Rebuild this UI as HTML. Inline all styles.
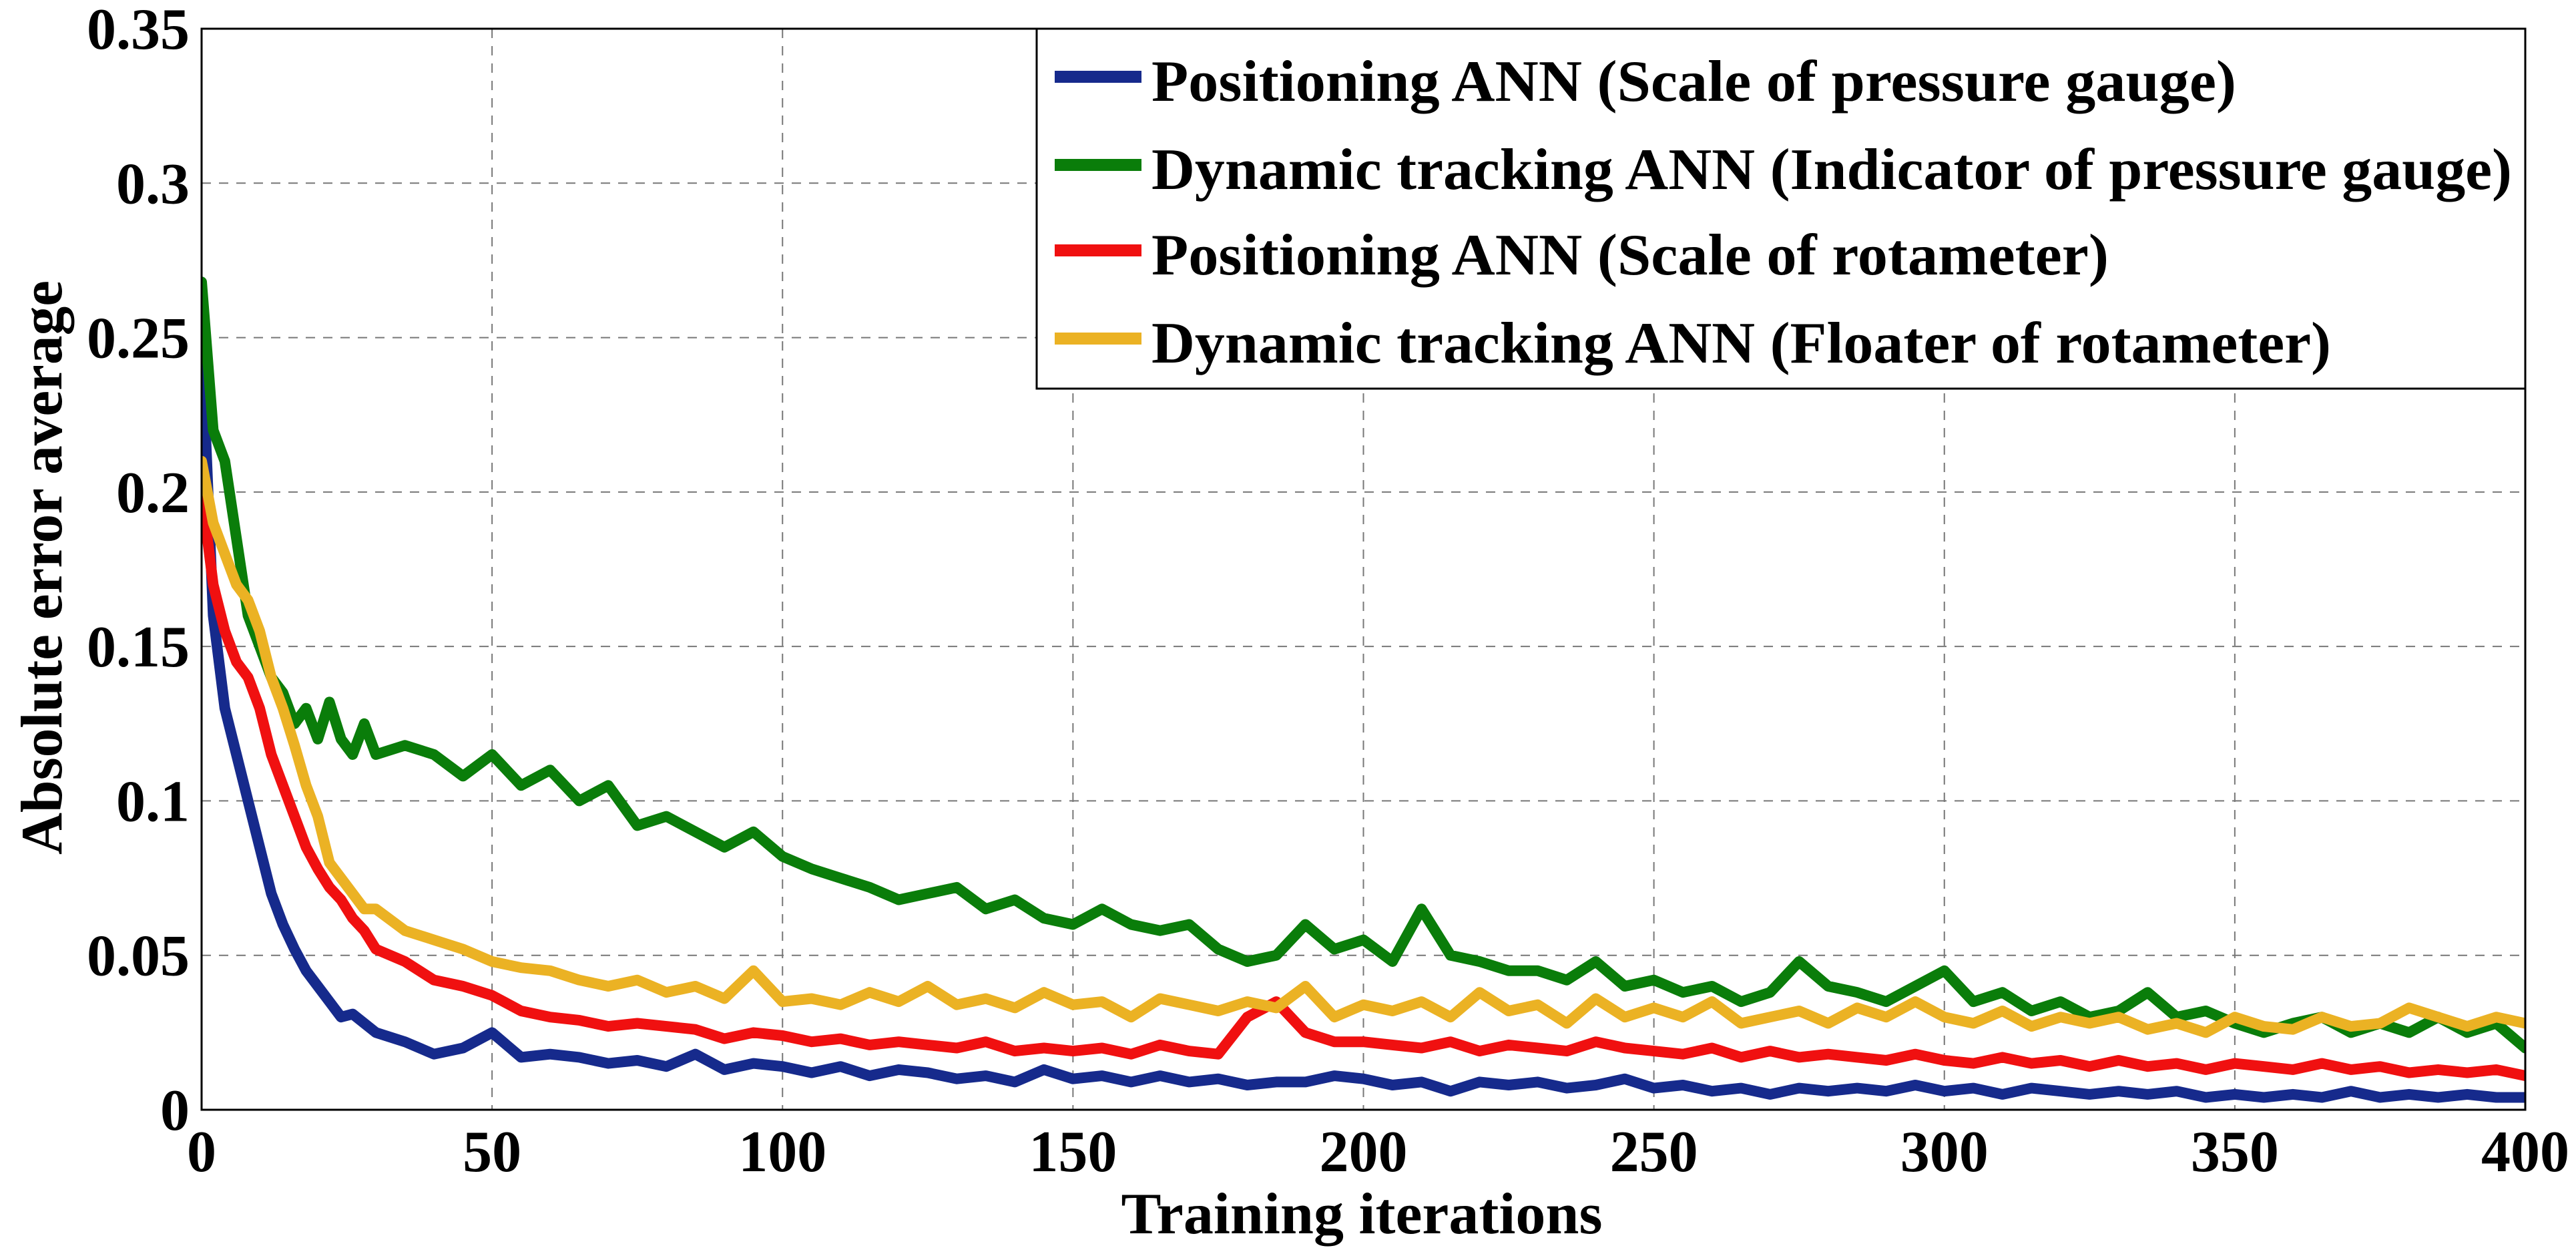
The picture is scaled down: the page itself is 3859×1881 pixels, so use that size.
<!DOCTYPE html>
<html><head><meta charset="utf-8"><style>
html,body{margin:0;padding:0;background:#fff;}
svg{display:block;font-family:"Liberation Serif","Times New Roman",serif;font-weight:bold;}
</style></head><body>
<svg id="chart" width="3859" height="1881" viewBox="0 0 3859 1881" xmlns="http://www.w3.org/2000/svg">
<defs><clipPath id="pc"><rect x="302" y="43" width="3481" height="1619"/></clipPath></defs>
<g id="grid"></g>
<g id="series" clip-path="url(#pc)"></g>
<rect x="302" y="43" width="3481" height="1619" fill="none" stroke="#000" stroke-width="3"/>
<g id="ticks" font-size="88"></g>
<text x="2040" y="1847" font-size="88" text-anchor="middle" textLength="721" lengthAdjust="spacingAndGlyphs">Training iterations</text>
<text transform="translate(92,850) rotate(-90)" font-size="88" text-anchor="middle" textLength="860" lengthAdjust="spacingAndGlyphs">Absolute error average</text>
<g>
<rect x="1553" y="43" width="2230" height="539" fill="#fff" stroke="#000" stroke-width="3"/>
<g><rect x="1580" y="106" width="130" height="18" fill="#162a8c"/><text x="1725" y="151" font-size="88" textLength="1625" lengthAdjust="spacingAndGlyphs">Positioning ANN (Scale of pressure gauge)</text></g>
<g><rect x="1580" y="238" width="130" height="18" fill="#0a7d0a"/><text x="1725" y="283" font-size="88" textLength="2038" lengthAdjust="spacingAndGlyphs">Dynamic tracking ANN (Indicator of pressure gauge)</text></g>
<g><rect x="1580" y="366" width="130" height="18" fill="#f01010"/><text x="1725" y="411" font-size="88" textLength="1434" lengthAdjust="spacingAndGlyphs">Positioning ANN (Scale of rotameter)</text></g>
<g><rect x="1580" y="498" width="130" height="18" fill="#ebb224"/><text x="1725" y="543" font-size="88" textLength="1767" lengthAdjust="spacingAndGlyphs">Dynamic tracking ANN (Floater of rotameter)</text></g>
</g>
</svg>
<script>
const iters=[0,2,4,6,8,10,12,14,16,18,20,22,24,26,28,30,35,40,45,50,55,60,65,70,75,80,85,90,95,100,105,110,115,120,125,130,135,140,145,150,155,160,165,170,175,180,185,190,195,200,205,210,215,220,225,230,235,240,245,250,255,260,265,270,275,280,285,290,295,300,305,310,315,320,325,330,335,340,345,350,355,360,365,370,375,380,385,390,395,400];
const blueVals=[0.25,0.16,0.13,0.115,0.10,0.085,0.07,0.06,0.052,0.045,0.04,0.035,0.03,0.031,0.028,0.025,0.022,0.018,0.02,0.025,0.017,0.018,0.017,0.015,0.016,0.014,0.018,0.013,0.015,0.014,0.012,0.014,0.011,0.013,0.012,0.01,0.011,0.009,0.013,0.01,0.011,0.009,0.011,0.009,0.01,0.008,0.009,0.009,0.011,0.01,0.008,0.009,0.006,0.009,0.008,0.009,0.007,0.008,0.01,0.007,0.008,0.006,0.007,0.005,0.007,0.006,0.007,0.006,0.008,0.006,0.007,0.005,0.007,0.006,0.005,0.006,0.005,0.006,0.004,0.005,0.004,0.005,0.004,0.006,0.004,0.005,0.004,0.005,0.004,0.004];
const greenVals=[0.268,0.22,0.21,0.185,0.16,0.15,0.14,0.135,0.125,0.13,0.12,0.132,0.12,0.115,0.125,0.115,0.118,0.115,0.108,0.115,0.105,0.11,0.1,0.105,0.092,0.095,0.09,0.085,0.09,0.082,0.078,0.075,0.072,0.068,0.07,0.072,0.065,0.068,0.062,0.06,0.065,0.06,0.058,0.06,0.052,0.048,0.05,0.06,0.052,0.055,0.048,0.065,0.05,0.048,0.045,0.045,0.042,0.048,0.04,0.042,0.038,0.04,0.035,0.038,0.048,0.04,0.038,0.035,0.04,0.045,0.035,0.038,0.032,0.035,0.03,0.032,0.038,0.03,0.032,0.028,0.025,0.028,0.03,0.025,0.028,0.025,0.03,0.025,0.028,0.02];
const redVals=[0.2,0.17,0.155,0.145,0.14,0.13,0.115,0.105,0.095,0.085,0.078,0.072,0.068,0.062,0.058,0.052,0.048,0.042,0.04,0.037,0.032,0.03,0.029,0.027,0.028,0.027,0.026,0.023,0.025,0.024,0.022,0.023,0.021,0.022,0.021,0.02,0.022,0.019,0.02,0.019,0.02,0.018,0.021,0.019,0.018,0.03,0.035,0.025,0.022,0.022,0.021,0.02,0.022,0.019,0.021,0.02,0.019,0.022,0.02,0.019,0.018,0.02,0.017,0.019,0.017,0.018,0.017,0.016,0.018,0.016,0.015,0.017,0.015,0.016,0.014,0.016,0.014,0.015,0.013,0.015,0.014,0.013,0.015,0.013,0.014,0.012,0.013,0.012,0.013,0.011];
const yellowVals=[0.21,0.19,0.18,0.17,0.165,0.155,0.14,0.13,0.118,0.105,0.095,0.08,0.075,0.07,0.065,0.065,0.058,0.055,0.052,0.048,0.046,0.045,0.042,0.04,0.042,0.038,0.04,0.036,0.045,0.035,0.036,0.034,0.038,0.035,0.04,0.034,0.036,0.033,0.038,0.034,0.035,0.03,0.036,0.034,0.032,0.035,0.033,0.04,0.03,0.034,0.032,0.035,0.03,0.038,0.032,0.034,0.028,0.036,0.03,0.033,0.03,0.035,0.028,0.03,0.032,0.028,0.033,0.03,0.035,0.03,0.028,0.032,0.027,0.03,0.028,0.03,0.026,0.028,0.025,0.03,0.027,0.026,0.03,0.027,0.028,0.033,0.03,0.027,0.03,0.028];
const xTicks=[0,50,100,150,200,250,300,350,400];
const yTicks=[0,0.05,0.1,0.15,0.2,0.25,0.3,0.35];
const yTickLabels=["0","0.05","0.1","0.15","0.2","0.25","0.3","0.35"];

const NS="http://www.w3.org/2000/svg";
const L=302,R=3783,T=43,B=1662;
function xs(v){return L+(v-0)/(400-0)*(R-L);}
function ys(v){return B-(v-0)/(0.35-0)*(B-T);}
const grid=document.getElementById('grid'),ticks=document.getElementById('ticks'),ser=document.getElementById('series');
xTicks.forEach(function(t,i){
  if(i>0&&i<xTicks.length-1){
    const g=document.createElementNS(NS,'line');
    
    
    g.setAttribute('x1',xs(t));g.setAttribute('x2',xs(t));g.setAttribute('y1',T);g.setAttribute('y2',B);
    g.setAttribute('stroke','#777');g.setAttribute('stroke-width','2');g.setAttribute('stroke-dasharray','14 12');
    grid.appendChild(g);
  }
  const tx=document.createElementNS(NS,'text');
  
  
  tx.setAttribute('x',xs(t));tx.setAttribute('y',1754);tx.setAttribute('text-anchor','middle');
  tx.textContent=String(t);ticks.appendChild(tx);
});
yTicks.forEach(function(t,i){
  if(i>0&&i<yTicks.length-1){
    const g=document.createElementNS(NS,'line');
    
    
    g.setAttribute('x1',L);g.setAttribute('x2',R);g.setAttribute('y1',ys(t));g.setAttribute('y2',ys(t));
    g.setAttribute('stroke','#777');g.setAttribute('stroke-width','2');g.setAttribute('stroke-dasharray','14 12');
    grid.appendChild(g);
  }
  const tx=document.createElementNS(NS,'text');
  
  
  tx.setAttribute('x',284);tx.setAttribute('y',ys(t)+30);tx.setAttribute('text-anchor','end');
  tx.textContent=yTickLabels[i];ticks.appendChild(tx);
});
function drawSeries(vals,color,name){
  const p=document.createElementNS(NS,'polyline');
  
  
  p.setAttribute('points',vals.map(function(v,i){return xs(iters[i]).toFixed(1)+','+ys(v).toFixed(1);}).join(' '));
  p.setAttribute('fill','none');p.setAttribute('stroke',color);p.setAttribute('stroke-width','16');
  p.setAttribute('stroke-linejoin','round');p.setAttribute('stroke-linecap','round');
  ser.appendChild(p);
}
drawSeries(blueVals,'#162a8c','line-positioning-pressure-gauge');
drawSeries(greenVals,'#0a7d0a','line-tracking-pressure-gauge');
drawSeries(redVals,'#f01010','line-positioning-rotameter');
drawSeries(yellowVals,'#ebb224','line-tracking-rotameter');
</script>
</body></html>
